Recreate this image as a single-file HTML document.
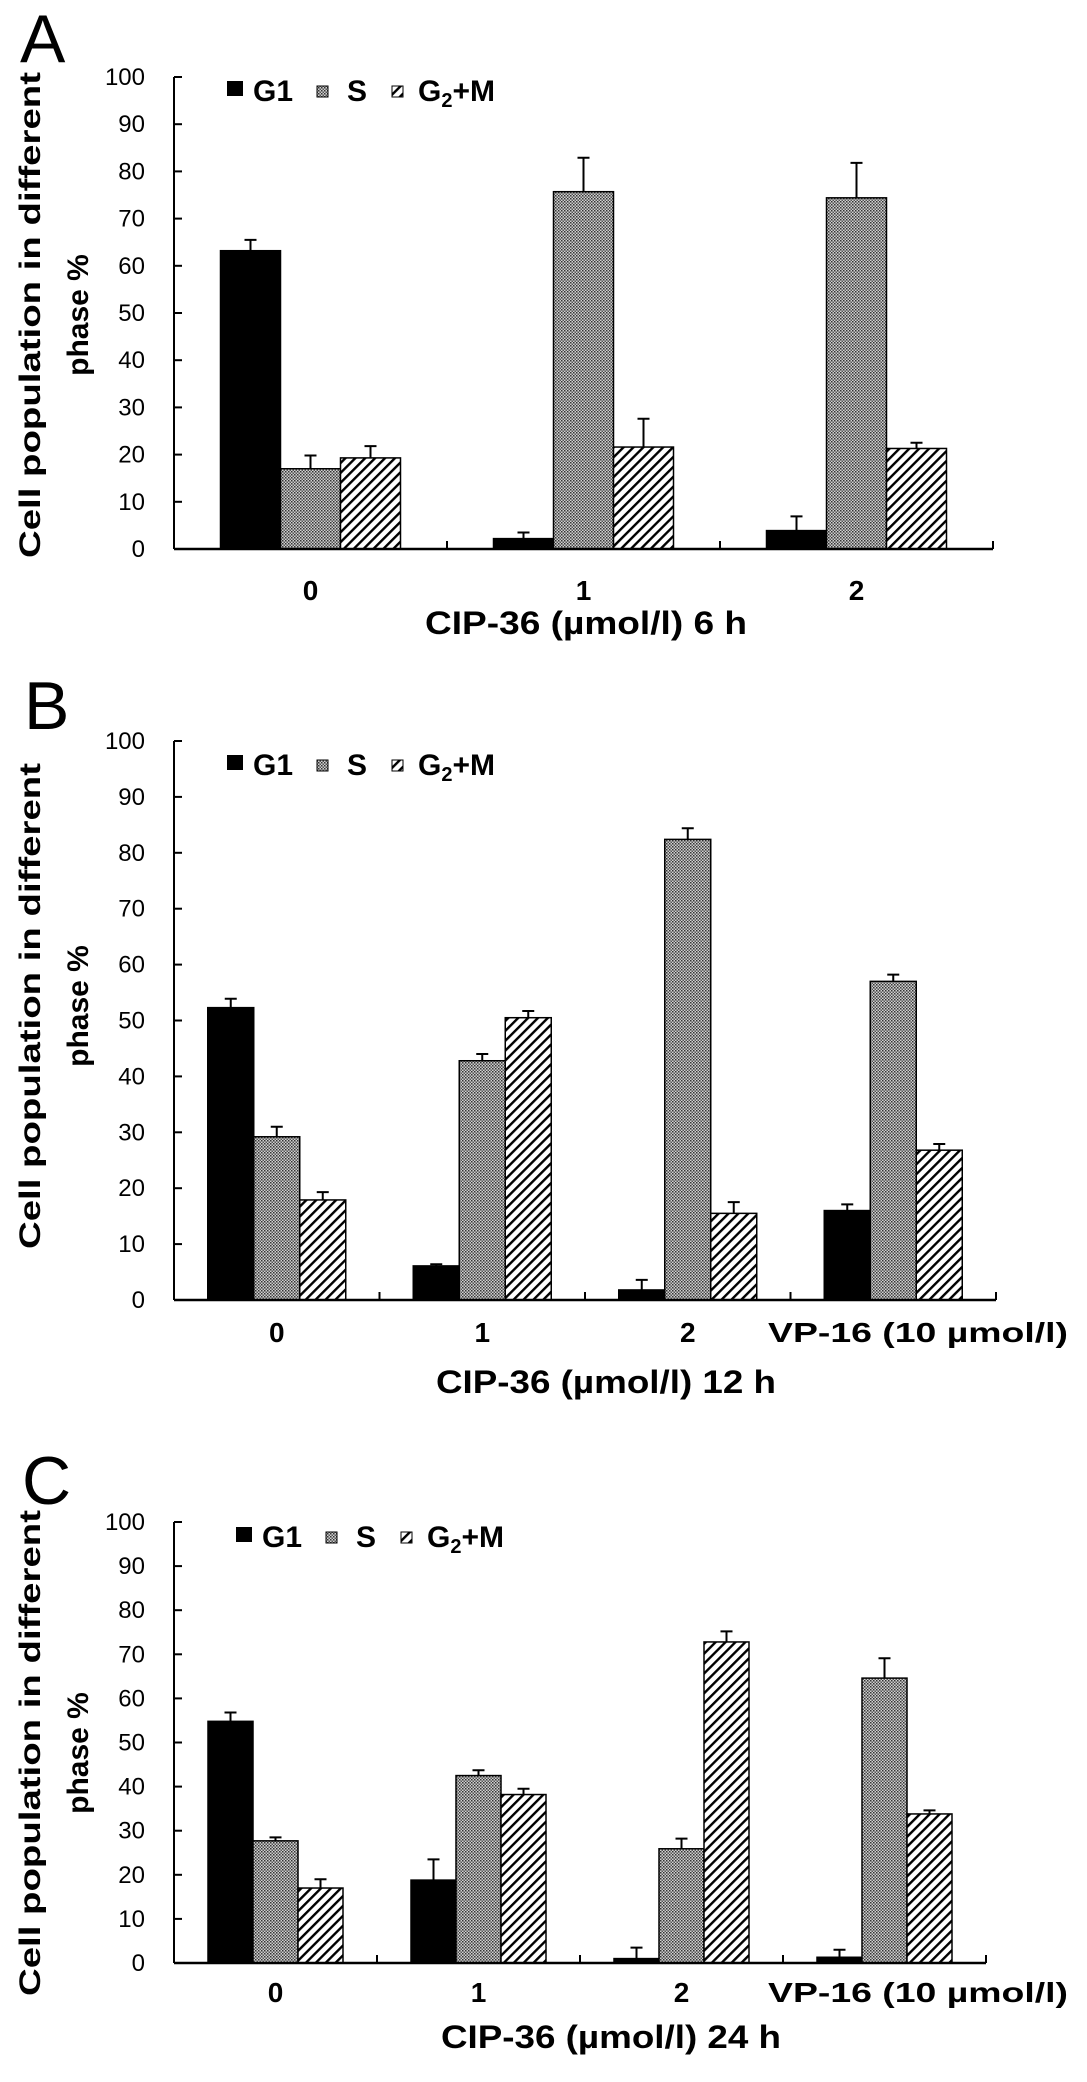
<!DOCTYPE html>
<html><head><meta charset="utf-8"><style>
html,body{margin:0;padding:0;background:#fff;}
svg{display:block;}
</style></head><body>
<svg id="fig" width="1087" height="2082" viewBox="0 0 1087 2082" xmlns="http://www.w3.org/2000/svg">
<defs>
<pattern id="pat-s" patternUnits="userSpaceOnUse" width="3" height="3">
<rect width="3" height="3" fill="#d0d0d0"/>
<rect x="0" y="0" width="1.5" height="1.5" fill="#333"/>
<rect x="1.5" y="1.5" width="1.5" height="1.5" fill="#555"/>
</pattern>
<pattern id="pat-g2" patternUnits="userSpaceOnUse" width="7" height="7" patternTransform="rotate(45)">
<rect width="7" height="7" fill="#fff"/>
<rect x="0" y="0" width="2.4" height="7" fill="#000"/>
</pattern>
</defs>
</svg>
<script>
const seriesNames = ['G1', 'S', 'G2+M'];
const catsA = ['0', '1', '2'];
const catsBC = ['0', '1', '2', 'VP-16 (10 µmol/l)'];
const yTicks = [0, 10, 20, 30, 40, 50, 60, 70, 80, 90, 100];
const aG1 = [63.2, 2.2, 3.9];
const aG1Err = [2.3, 1.3, 3.0];
const aS = [17.0, 75.7, 74.4];
const aSErr = [2.8, 7.2, 7.4];
const aG2 = [19.3, 21.6, 21.3];
const aG2Err = [2.5, 6.0, 1.2];
const bG1 = [52.3, 6.1, 1.8, 16.0];
const bG1Err = [1.6, 0.3, 1.8, 1.1];
const bS = [29.2, 42.8, 82.4, 57.0];
const bSErr = [1.8, 1.2, 2.0, 1.2];
const bG2 = [17.9, 50.5, 15.5, 26.8];
const bG2Err = [1.4, 1.2, 2.0, 1.1];
const cG1 = [54.8, 18.8, 1.0, 1.3];
const cG1Err = [2.0, 4.7, 2.5, 1.7];
const cS = [27.7, 42.5, 25.9, 64.6];
const cSErr = [0.8, 1.2, 2.3, 4.5];
const cG2 = [17.0, 38.2, 72.8, 33.8];
const cG2Err = [2.0, 1.3, 2.4, 0.8];

const NS = 'http://www.w3.org/2000/svg';
const svg = document.getElementById('fig');
const FONT = '"Liberation Sans", Arial, sans-serif';
function mk(tag, attrs, parent) {
  const e = document.createElementNS(NS, tag);
  for (const k in attrs) e.setAttribute(k, attrs[k]);
  (parent || svg).appendChild(e);
  return e;
}
function txt(s, x, y, size, weight, anchor, parent, len) {
  const a = {x: x, y: y, 'font-family': FONT, 'font-size': size, 'font-weight': weight, 'text-anchor': anchor, fill: '#000'};
  if (len) { a.textLength = len; a.lengthAdjust = 'spacingAndGlyphs'; }
  const t = mk('text', a, parent);
  t.textContent = s;
  return t;
}
const fills = ['#000', 'url(#pat-s)', 'url(#pat-g2)'];

function panel(p) {
  const g = mk('g', {});
  
  
  const yS = v => p.y0 - (v / 100) * (p.y0 - p.y100);
  const n = p.cats.length;
  const cw = (p.xR - p.xL) / n;
  const xC = i => p.xL + cw * (i + 0.5);
  const L = txt(p.id, p.letterX, p.letterY, 68, 'normal', 'start', g);
  
  
  yTicks.forEach(v => {
    const y = yS(v);
    const tk = mk('line', {x1: p.xL, x2: p.xL + 8, y1: y, y2: y, stroke: '#000', 'stroke-width': 2}, g);
    
    
    const tl = txt(String(v), p.xL - 29, y + 8, 24, 'normal', 'end', g);
    
    
  });
  p.series.forEach((ser, si) => {
    ser.vals.forEach((v, i) => {
      const x = xC(i) - 1.5 * p.bw + si * p.bw;
      const y = yS(v);
      const r = mk('rect', {x: x, y: y, width: p.bw, height: p.y0 - y, fill: fills[si], stroke: '#000', 'stroke-width': 1.5}, g);
      
      
      const ye = yS(v + ser.err[i]);
      const cx = x + p.bw / 2;
      const eb = mk('path', {d: `M${cx},${y} V${ye} M${cx - 6},${ye} H${cx + 6}`, stroke: '#000', 'stroke-width': 2, fill: 'none'}, g);
      
      
    });
  });
  const ya = mk('line', {x1: p.xL, x2: p.xL, y1: p.y100, y2: p.y0, stroke: '#000', 'stroke-width': 2}, g);
  
  
  const xa = mk('line', {x1: p.xL, x2: p.xR, y1: p.y0, y2: p.y0, stroke: '#000', 'stroke-width': 2.5}, g);
  
  
  for (let i = 1; i <= n; i++) {
    const xt = p.xL + cw * i;
    const t = mk('line', {x1: xt, x2: xt, y1: p.y0, y2: p.y0 - 8, stroke: '#000', 'stroke-width': 2}, g);
    
    
  }
  p.cats.forEach((c, i) => {
    let cx = xC(i);
    let len = null;
    if (i === 3) { cx = p.vpX; len = 300; }
    const cl = txt(c, cx, p.y0 + p.catDy, 28, 'bold', 'middle', g, len);
    
    
  });
  const xt = txt(p.xTitle, p.xTitleX, p.xTitleY, 32, 'bold', 'middle', g, p.xTitleLen);
  
  
  const ymid = (p.yt0 + p.yt1) / 2;
  const t1 = mk('text', {transform: `translate(40,${ymid}) rotate(-90)`, 'font-family': FONT, 'font-size': 30, 'font-weight': 'bold', 'text-anchor': 'middle', textLength: p.yt1 - p.yt0, lengthAdjust: 'spacingAndGlyphs'}, g);
  t1.textContent = 'Cell population in different';
  
  
  const t2 = mk('text', {transform: `translate(88,${ymid}) rotate(-90)`, 'font-family': FONT, 'font-size': 30, 'font-weight': 'bold', 'text-anchor': 'middle'}, g);
  t2.textContent = 'phase %';
  
  
  const lg = mk('g', {}, g);
  
  
  const lx = p.legX, ly = p.legY;
  const s1 = mk('rect', {x: lx, y: ly - 20, width: 16, height: 15, fill: '#000'}, lg);
  
  
  const l1 = txt('G1', lx + 26, ly, 30, 'bold', 'start', lg);
  
  
  const s2 = mk('rect', {x: lx + 90, y: ly - 15, width: 11, height: 11, fill: 'url(#pat-s)', stroke: '#000', 'stroke-width': 1}, lg);
  
  
  const l2 = txt('S', lx + 120, ly, 30, 'bold', 'start', lg);
  
  
  const s3 = mk('rect', {x: lx + 165, y: ly - 15, width: 11, height: 11, fill: 'url(#pat-g2)', stroke: '#000', 'stroke-width': 1}, lg);
  
  
  const l3 = mk('text', {x: lx + 191, y: ly, 'font-family': FONT, 'font-size': 30, 'font-weight': 'bold'}, lg);
  l3.innerHTML = 'G<tspan font-size="20" dy="6">2</tspan><tspan dy="-6">+M</tspan>';
  
  
}

panel({id: 'A', xL: 174, xR: 993, y0: 549, y100: 77, bw: 60, cats: catsA,
  series: [{vals: aG1, err: aG1Err}, {vals: aS, err: aSErr}, {vals: aG2, err: aG2Err}],
  letterX: 20, letterY: 62, catDy: 51, xTitle: 'CIP-36 (µmol/l) 6 h', xTitleX: 586, xTitleY: 634, xTitleLen: 322,
  yt0: 72, yt1: 558, legX: 227, legY: 101, vpX: 0});
panel({id: 'B', xL: 174, xR: 996, y0: 1300, y100: 741, bw: 46, cats: catsBC,
  series: [{vals: bG1, err: bG1Err}, {vals: bS, err: bSErr}, {vals: bG2, err: bG2Err}],
  letterX: 24, letterY: 729, catDy: 42, xTitle: 'CIP-36 (µmol/l) 12 h', xTitleX: 606, xTitleY: 1393, xTitleLen: 340,
  yt0: 763, yt1: 1249, legX: 227, legY: 775, vpX: 918});
panel({id: 'C', xL: 174, xR: 986, y0: 1963, y100: 1522, bw: 45, cats: catsBC,
  series: [{vals: cG1, err: cG1Err}, {vals: cS, err: cSErr}, {vals: cG2, err: cG2Err}],
  letterX: 22, letterY: 1504, catDy: 39, xTitle: 'CIP-36 (µmol/l) 24 h', xTitleX: 611, xTitleY: 2048, xTitleLen: 340,
  yt0: 1510, yt1: 1996, legX: 236, legY: 1547, vpX: 918});
</script>
</body></html>
